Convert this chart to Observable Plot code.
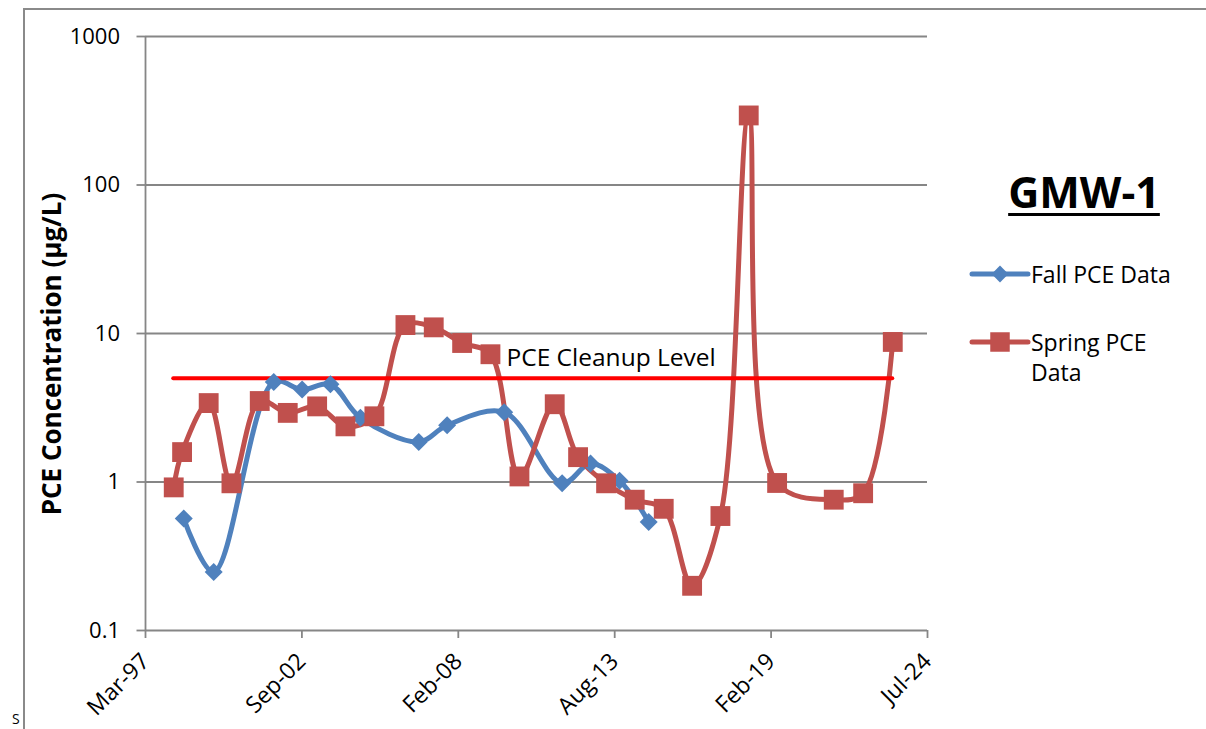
<!DOCTYPE html>
<html>
<head>
<meta charset="utf-8">
<script src="https://cdn.jsdelivr.net/npm/d3@7"></script>
<script src="https://cdn.jsdelivr.net/npm/@observablehq/plot@0.6"></script>
<style>
  html, body { margin: 0; padding: 0; background: #fff; }
  #wrap { position: relative; width: 1206px; height: 729px; overflow: hidden; font-family: "Open Sans", sans-serif; color: #000; }
  #wrap svg { position: absolute; left: 0; top: 0; }
  .abs { position: absolute; white-space: nowrap; }
</style>
</head>
<body>
<div id="wrap"></div>
<script>
// ---- data ----
const xTickDates = ["1997-03-11", "2002-09-01", "2008-02-22", "2013-08-14", "2019-02-04", "2024-07-27"];
const yTickValues = [0.1, 1, 10, 100, 1000];

const fallDates = ["1998-07-13", "1999-07-31", "2001-09-06", "2002-09-04", "2003-09-01", "2004-09-18",
  "2006-10-04", "2007-10-02", "2009-10-01", "2011-10-12", "2012-10-09", "2013-10-15", "2014-10-23"];
const fallValues = [0.567, 0.248, 4.71, 4.19, 4.55, 2.71, 1.86, 2.41, 2.95, 0.98, 1.33, 1.02, 0.538];

const springDates = ["1998-03-07", "1998-06-22", "1999-05-28", "2000-03-14", "2001-03-11", "2002-03-04",
  "2003-03-15", "2004-03-11", "2005-03-16", "2006-04-17", "2007-04-14", "2008-04-11", "2009-04-08",
  "2010-04-14", "2011-07-09", "2012-05-03", "2013-04-26", "2014-04-27", "2015-05-03", "2016-04-30",
  "2017-04-27", "2018-04-24", "2019-04-22", "2021-04-15", "2022-04-26", "2023-05-10"];
const springValues = [0.92, 1.59, 3.40, 0.98, 3.51, 2.92, 3.23, 2.37, 2.77, 11.4, 11.0, 8.63, 7.25,
  1.09, 3.34, 1.47, 0.98, 0.76, 0.66, 0.20, 0.59, 294, 0.985, 0.76, 0.84, 8.77];

const cleanupLevel = 5;
const cleanupLabel = "PCE Cleanup Level";
const cleanupLabelDate = "2009-10-30";
const seriesNames = ["Fall PCE Data", "Spring PCE Data"];
const wellName = "GMW-1";
const yAxisTitle = "PCE Concentration (µg/L)";

// ---- build ----
const parse = d3.utcParse("%Y-%m-%d");
const xTicks = xTickDates.map(parse);
const fall = fallDates.map((d, i) => ({date: parse(d), value: fallValues[i]}));
const spring = springDates.map((d, i) => ({date: parse(d), value: springValues[i]}));
const cleanup = [{level: cleanupLevel, start: spring[0].date, end: spring[spring.length - 1].date}];

const BLUE = "#4F81BD", RED = "#C0504D", CLEAN = "#FF0000", GRID = "#868686";

const chart = Plot.plot({
  width: 1206,
  height: 729,
  marginLeft: 145,
  marginRight: 279,
  marginTop: 36,
  marginBottom: 99,
  style: {fontFamily: "'Open Sans', sans-serif", fontSize: "22px", color: "#000", background: "transparent", overflow: "visible"},
  x: {type: "utc", domain: [xTicks[0], xTicks[xTicks.length - 1]]},
  y: {type: "log", domain: [yTickValues[0], yTickValues[yTickValues.length - 1]]},
  marks: [
    Plot.gridY(yTickValues.slice(1), {stroke: GRID, strokeOpacity: 1, strokeWidth: 1.8}),
    Plot.ruleY([yTickValues[0]], {stroke: GRID, strokeWidth: 1.8}),
    Plot.ruleX([xTicks[0]], {stroke: GRID, strokeWidth: 1.8}),
    Plot.axisY({ticks: yTickValues, tickFormat: d => String(d), tickSize: 8.5, tickPadding: 17, stroke: GRID, strokeWidth: 1.8, label: null, fontSize: 22}),
    Plot.axisX({ticks: xTicks, tickFormat: d3.utcFormat("%b-%y"), tickRotate: -45, tickSize: 8, tickPadding: 19, stroke: GRID, strokeWidth: 1.8, label: null, fontSize: 23}),
    Plot.line(fall, {x: "date", y: "value", stroke: BLUE, strokeWidth: 5, curve: "catmull-rom"}),
    Plot.line(spring, {x: "date", y: "value", stroke: RED, strokeWidth: 5, curve: "catmull-rom"}),
    Plot.ruleY(cleanup, {y: "level", x1: "start", x2: "end", stroke: CLEAN, strokeWidth: 4, strokeLinecap: "round"}),
    Plot.dot(fall, {x: "date", y: "value", symbol: "diamond2", r: 8.1, fill: BLUE, stroke: null}),
    Plot.dot(spring, {x: "date", y: "value", symbol: "square", r: 11.2, fill: RED, stroke: null}),
    Plot.text([cleanupLabel], {x: () => parse(cleanupLabelDate), y: () => cleanupLevel, text: d => d, textAnchor: "start", lineAnchor: "bottom", dy: -12, fontSize: 24.5, fill: "#000"})
  ]
});

const wrap = document.getElementById("wrap");

// outer frame
const frame = document.createElement("div");
frame.className = "abs";
Object.assign(frame.style, {left: "23px", top: "8px", width: "1400px", height: "900px", borderTop: "2px solid #8a8a8a", borderLeft: "2px solid #8a8a8a"});
wrap.appendChild(frame);

wrap.appendChild(chart);

// y-axis title
const yt = document.createElement("div");
yt.className = "abs";
yt.textContent = yAxisTitle;
Object.assign(yt.style, {left: (51 - 250) + "px", top: (354 - 20) + "px", width: "500px", height: "40px", lineHeight: "40px", textAlign: "center", fontWeight: "700", fontSize: "26px", transform: "rotate(-90deg)"});
wrap.appendChild(yt);

// title
const title = document.createElement("div");
title.className = "abs";
title.textContent = wellName;
Object.assign(title.style, {left: (1084 - 120) + "px", top: "167px", width: "240px", lineHeight: "50px", textAlign: "center", fontWeight: "700", fontSize: "43px", textDecoration: "underline", textDecorationThickness: "2.5px", textUnderlineOffset: "5px"});
wrap.appendChild(title);

// legend
function legendItem(top, color, symbolType, label) {
  const ns = "http://www.w3.org/2000/svg";
  const svg = document.createElementNS(ns, "svg");
  svg.setAttribute("width", 62); svg.setAttribute("height", 26);
  svg.style.position = "absolute";
  svg.style.left = "969px"; svg.style.top = (top - 13) + "px";
  const ln = document.createElementNS(ns, "line");
  ln.setAttribute("x1", 3); ln.setAttribute("x2", 59); ln.setAttribute("y1", 13); ln.setAttribute("y2", 13);
  ln.setAttribute("stroke", color); ln.setAttribute("stroke-width", 5); ln.setAttribute("stroke-linecap", "round");
  svg.appendChild(ln);
  const p = document.createElementNS(ns, "path");
  p.setAttribute("d", d3.symbol(symbolType === "square" ? d3.symbolSquare : d3.symbolDiamond2, symbolType === "square" ? 380 : 180)());
  p.setAttribute("transform", "translate(31,13)");
  p.setAttribute("fill", color);
  svg.appendChild(p);
  wrap.appendChild(svg);
  const t = document.createElement("div");
  t.className = "abs";
  t.innerHTML = label;
  Object.assign(t.style, {left: "1031px", top: (top - 15) + "px", fontSize: "23px", lineHeight: "30px"});
  wrap.appendChild(t);
}
legendItem(274, BLUE, "diamond", seriesNames[0]);
legendItem(342, RED, "square", "Spring PCE<br>Data");

// small letter at bottom-left outside the frame
const s = document.createElement("div");
s.className = "abs";
s.textContent = "S";
Object.assign(s.style, {left: "12px", top: "709px", fontSize: "14px", lineHeight: "20px"});
wrap.appendChild(s);
</script>
</body>
</html>
